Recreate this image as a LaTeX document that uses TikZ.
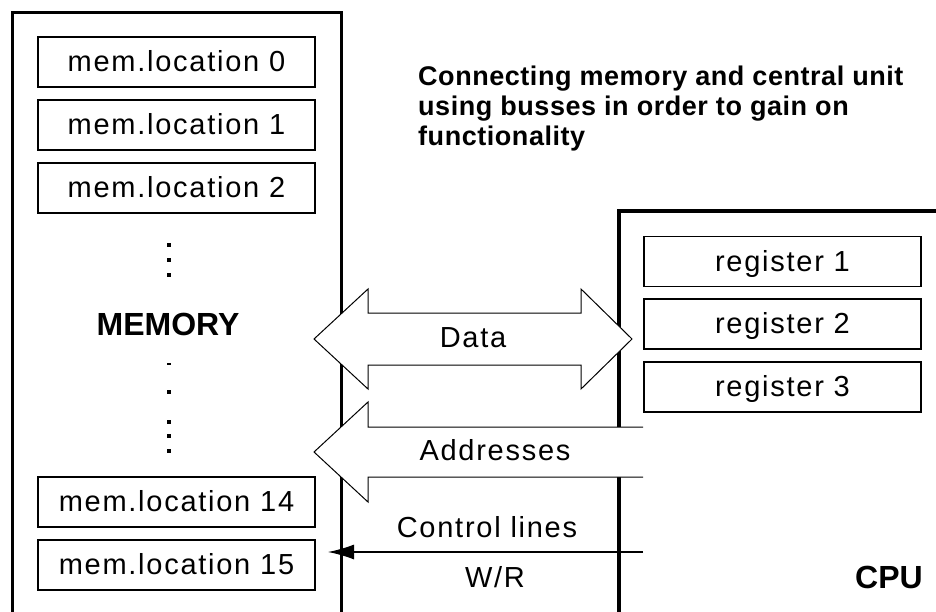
\documentclass[tikz,border=0pt]{standalone}
\usepackage{fontspec}
\setmainfont{Liberation Sans}
\newfontfamily\regfont[LetterSpace=6]{Liberation Sans}
\newfontfamily\ttlfont[LetterSpace=2]{Liberation Sans}
\usetikzlibrary{arrows.meta}
\tikzset{
  cell/.style={draw, line width=1.2pt, minimum width=277pt, minimum height=50pt,
    inner sep=0pt, text height=19pt, text depth=0pt,
    font=\regfont\fontsize{29}{31}\selectfont},
  bigbox/.style={draw, line width=3.5pt, inner sep=0pt},
  buslabel/.style={anchor=base, inner sep=0pt, font=\regfont\fontsize{29}{31}\selectfont},
  unitlabel/.style={anchor=base, inner sep=0pt, font=\bfseries\fontsize{32}{34}\selectfont},
  titleline/.style={anchor=base west, inner sep=0pt, font=\ttlfont\bfseries\fontsize{27}{30}\selectfont},
  busline/.style={line width=1pt},
  dotmark/.style={fill=black}
}
\begin{document}
\begin{tikzpicture}[x=1pt,y=-1pt]
\useasboundingbox (0,0) rectangle (936,612);
\clip (0,0) rectangle (936,612);
\fill[white] (0,0) rectangle (936,612);

% big boxes
\node[bigbox, minimum width=329pt, minimum height=628pt] (memory) at (177,326.5) {};
\node[bigbox, minimum width=361pt, minimum height=439pt] (cpu) at (799.5,430.5) {};

% memory cells
\node[cell] (m0) at (176.5,62) {mem.location 0};
\node[cell] (m1) at (176.5,125) {mem.location 1};
\node[cell] (m2) at (176.5,188) {mem.location 2};
\node[cell] (m14) at (176.5,502) {mem.location 14};
\node[cell] (m15) at (176.5,565) {mem.location 15};

% dots
\foreach \yy in {245,260,275,392.3,421.7,436,450.7}
  \fill[dotmark] (167.3,\yy-2) rectangle (171.3,\yy+2);
\fill[dotmark] (167.3,363.2) rectangle (171.3,364.8);

\node[unitlabel] (memlabel) at (168,335) {MEMORY};

% registers
\node[cell] (r1) at (782.5,261.5) {register 1};
\node[cell] (r2) at (782.5,324) {register 2};
\node[cell] (r3) at (782.5,387) {register 3};

\node[unitlabel] (cpulabel) at (889,588) {CPU};

% Data bus (double arrow)
\draw[busline, fill=white] (314,339) -- (368,289) -- (368,313) -- (581,313) -- (581,289)
  -- (632,339) -- (581,389) -- (581,365) -- (368,365) -- (368,389) -- cycle;
\node[buslabel] (data) at (473,347) {Data};

% Address bus (single arrow, open end)
\fill[white] (643,427) -- (368,427) -- (368,402) -- (314,452) -- (368,502) -- (368,477) -- (643,477) -- cycle;
\draw[busline] (643,427) -- (368,427) -- (368,402) -- (314,452) -- (368,502) -- (368,477) -- (643,477);
\node[buslabel] (addr) at (495,460) {Addresses};

% Control line W/R
\node[buslabel] (ctl) at (487,537) {Control lines};
\node[buslabel] (wr) at (495,587) {W/R};
\coordinate (wrstart) at (643,552);
\coordinate (wrend) at (328,552);
\draw[line width=1.2pt, -{Latex[length=26pt,width=15pt]}] (wrstart) -- (wrend);

% title
\node[titleline] (t1) at (418,86) {Connecting memory and central unit};
\node[titleline] (t2) at (418,116) {using busses in order to gain on};
\node[titleline] (t3) at (418,146) {functionality};
\end{tikzpicture}
\end{document}
